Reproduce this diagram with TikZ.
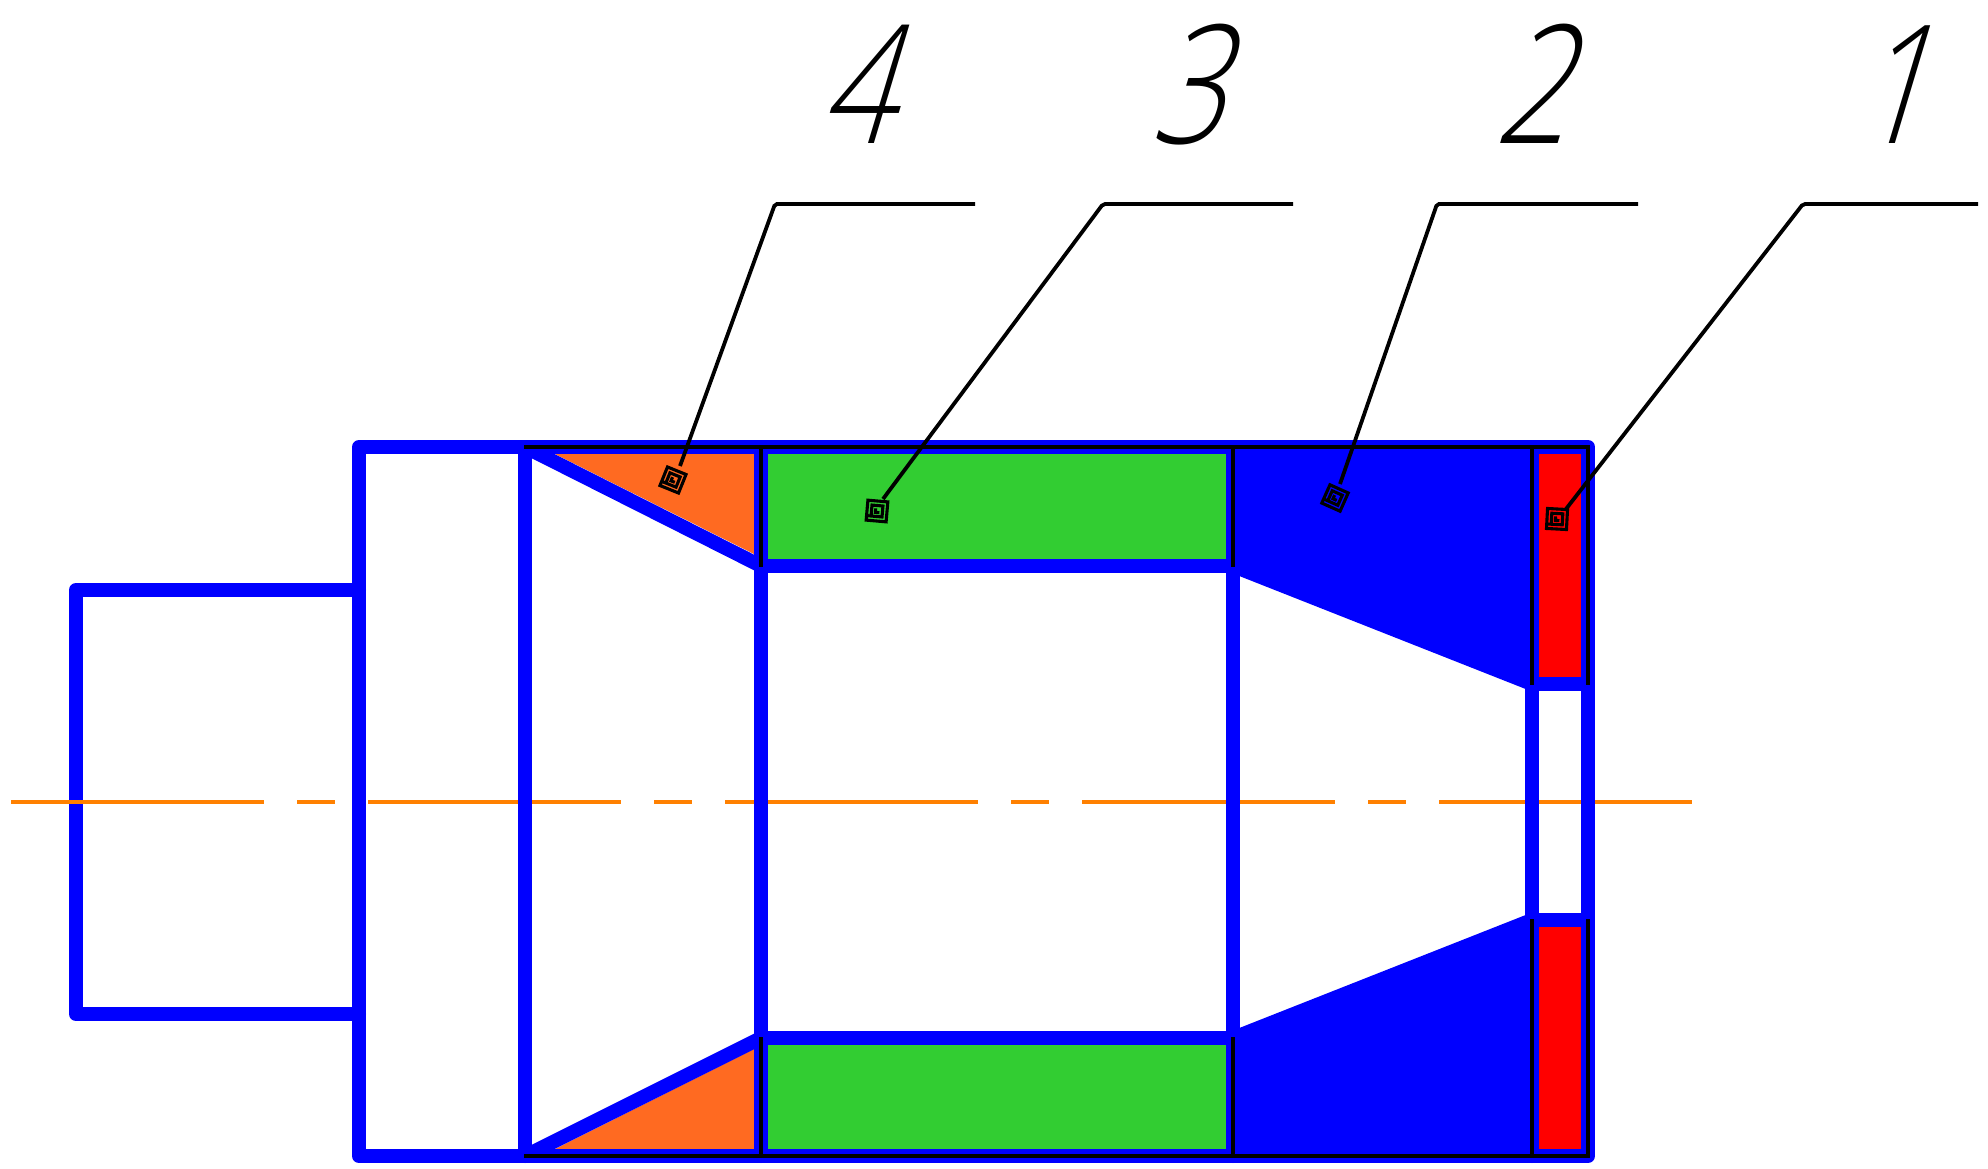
\documentclass[tikz,border=0pt]{standalone}
\usepackage{fontspec}
\newfontfamily\lblfont[UprightFont=* Light,FakeSlant=0.30,FakeStretch=0.78]{Open Sans}
\definecolor{partblue}{RGB}{0,0,255}
\definecolor{partgreen}{RGB}{50,205,50}
\definecolor{partorange}{RGB}{255,106,33}
\definecolor{axisorange}{RGB}{255,128,0}
\tikzset{
  wall/.style={draw=partblue,line width=14pt,line join=round,line cap=round},
  thin/.style={draw=black,line width=3.7pt},
  leader/.style={draw=black,line width=3.8pt,rounded corners=2pt},
  axisline/.style={draw=axisorange,line width=4pt,dash pattern=on 253pt off 33pt on 38pt off 33pt},
  digit/.style={anchor=base,inner sep=0pt,font=\lblfont\fontsize{165}{165}\selectfont},
  spiralpath/.style={draw=black,line width=3.1pt,line join=miter}
}
\newcommand{\spiralat}[3]{%
  \coordinate (#3) at (#1);
  \begin{scope}[shift={(#1)},rotate=#2]
    \draw[spiralpath] (-10,-10) rectangle (10,10);
    \draw[spiralpath] (-10,5.5) -- (-5.5,5.5) -- (-5.5,-5.5) -- (5.5,-5.5) -- (5.5,5.5) -- (-5.5,5.5);
    \draw[spiralpath] (-1.5,-2.5) -- (-1.5,1.5) -- (2.5,1.5);
  \end{scope}
}
\begin{document}
\begin{tikzpicture}[x=1pt,y=-1pt]
\useasboundingbox (0,0) rectangle (1988,1168);
% fills
\fill[partorange] (555,454) -- (754,454) -- (754,554) -- cycle;
\fill[partorange] (555,1149) -- (754,1149) -- (754,1049) -- cycle;
\fill[partgreen] (768,454) rectangle (1226,559);
\fill[partgreen] (768,1045) rectangle (1226,1149);
\fill[red] (1539,454) rectangle (1581,677);
\fill[red] (1539,927) rectangle (1581,1149);
\fill[partblue] (1233,447) -- (1532,447) -- (1532,684) -- (1233,566) -- cycle;
\fill[partblue] (1233,1156) -- (1532,1156) -- (1532,920) -- (1233,1038) -- cycle;
% walls
\draw[wall] (359,590) -- (76,590) -- (76,1014) -- (359,1014);
\draw[axisline] (11,802) -- (1699,802);
\draw[wall] (359,447) -- (1588,447) -- (1588,1156) -- (359,1156) -- cycle;
\draw[wall] (525,447) -- (525,1156);
\draw[wall] (761,447) -- (761,1156);
\draw[wall] (1233,447) -- (1233,1156);
\draw[wall] (1532,447) -- (1532,1156);
\draw[wall,line cap=butt] (761,566) -- (1233,566);
\draw[wall,line cap=butt] (761,1038) -- (1233,1038);
\draw[wall,line cap=butt] (1532,684) -- (1588,684);
\draw[wall,line cap=butt] (1532,920) -- (1588,920);
\draw[wall] (525,447) -- (761,566);
\draw[wall] (525,1156) -- (761,1038);
\draw[wall] (1233,566) -- (1532,684);
\draw[wall] (1233,1038) -- (1532,920);
% thin contour lines
\draw[thin] (524,447) -- (1588,447) -- (1588,685);
\draw[thin] (524,1156) -- (1588,1156) -- (1588,919);
\draw[thin] (761,447) -- (761,567);
\draw[thin] (761,1156) -- (761,1037);
\draw[thin] (1233,447) -- (1233,567);
\draw[thin] (1233,1156) -- (1233,1037);
\draw[thin] (1532,447) -- (1532,685);
\draw[thin] (1532,1156) -- (1532,919);
% spirals
\spiralat{673,480}{-22}{s4}
\spiralat{877,511}{-5}{s3}
\spiralat{1335,498}{-24}{s2}
\spiralat{1557,519}{-3}{s1}
% leaders
\coordinate (e4) at (680,466);
\coordinate (e3) at (883,499);
\coordinate (e2) at (1340,484);
\coordinate (e1) at (1566,509);
\coordinate (k4) at (775,204); \coordinate (t4) at (975,204);
\coordinate (k3) at (1103,204); \coordinate (t3) at (1293,204);
\coordinate (k2) at (1437,204); \coordinate (t2) at (1638,204);
\coordinate (k1) at (1803,204); \coordinate (t1) at (1978,204);
\draw[leader] (e4) -- (k4) -- (t4);
\draw[leader] (e3) -- (k3) -- (t3);
\draw[leader] (e2) -- (k2) -- (t2);
\draw[leader] (e1) -- (k1) -- (t1);
% labels
\node[digit] (n4) at (855,143) {4};
\node[digit] (n3) at (1186,143) {3};
\node[digit] (n2) at (1530,143) {2};
\node[digit] (n1) at (1889,143) {1};
\end{tikzpicture}
\end{document}
